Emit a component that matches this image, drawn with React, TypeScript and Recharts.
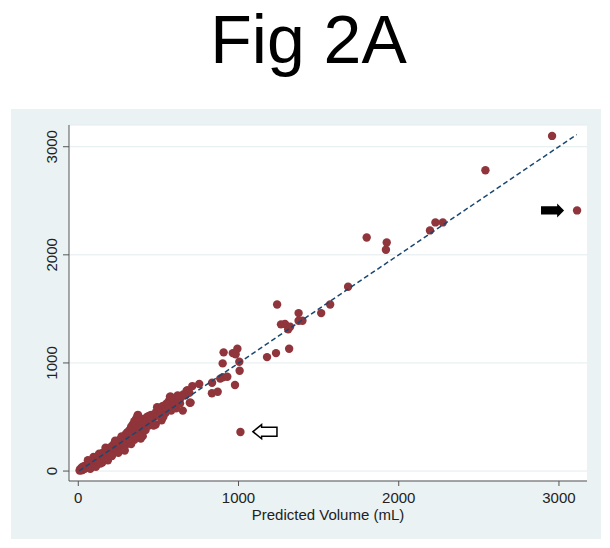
import React from 'react';
import { ScatterChart, Scatter, XAxis, YAxis, CartesianGrid, ReferenceArea, Label } from 'recharts';

const predicted: number[] = [
  8, 12, 15, 20, 22, 25, 28, 30, 35, 38, 40, 45, 48, 50, 55, 58, 60, 65, 68, 70, 75, 78, 80, 85, 88, 90, 95, 98, 100,
  60, 75, 95, 110, 130, 150, 170, 185,
  105, 108, 110, 115, 118, 120, 125, 128, 130, 135, 138, 140, 142, 148, 150, 152, 158, 160, 162, 168, 170, 172, 178, 180, 185, 188, 190, 195, 198, 200,
  205, 210, 212, 218, 220, 225, 230, 235, 238, 242, 245, 250, 255, 258, 262, 268, 270, 272, 278, 280, 285, 288, 292, 295, 298, 300,
  210, 230, 250, 270, 290, 310, 330, 350, 372, 390,
  305, 308, 310, 315, 320, 322, 328, 330, 335, 338, 340, 342, 348, 350, 352, 355, 358, 360, 362, 365, 368, 370, 375, 378, 380, 385, 388, 390, 395, 398, 402, 405,
  410, 416, 420, 428, 432, 440, 447, 455, 462, 468, 478, 483, 485, 492, 495, 500, 506,
  420, 440, 455, 470, 520, 545, 580, 610, 640,
  510, 518, 525, 531, 540, 548, 552, 562, 565, 572, 577, 585, 593, 598, 605, 614, 620, 624, 630, 635, 652, 655, 665, 672, 676, 683, 693, 696, 701, 712, 755,
  835, 834, 870, 886, 902, 930, 901, 907, 964, 982, 993, 1005, 1007, 978, 1012, 1178, 1234,
  1241, 1265, 1290, 1310, 1322, 1316, 1375, 1375, 1399, 1516, 1572, 1684, 1800, 1920, 1925, 2195, 2229, 2275, 2541, 2957, 3113,
];
const measured: number[] = [
  5, 18, 10, 30, 8, 20, 40, 15, 28, 45, 22, 35, 55, 30, 48, 62, 38, 52, 75, 45, 60, 85, 55, 70, 95, 62, 80, 110, 72,
  100, 20, 130, 40, 160, 80, 215, 100,
  95, 120, 85, 105, 135, 90, 115, 140, 100, 125, 70, 150, 110, 135, 165, 118, 145, 175, 128, 155, 185, 140, 165, 200, 150, 175, 210, 165, 190, 215,
  180, 230, 195, 210, 245, 190, 225, 260, 205, 240, 275, 215, 250, 290, 230, 195, 265, 300, 245, 285, 320, 260, 235, 300, 345, 275,
  140, 280, 170, 320, 190, 360, 250, 290, 520, 300,
  315, 360, 290, 330, 380, 300, 350, 410, 320, 380, 430, 345, 400, 460, 370, 330, 420, 480, 395, 440, 505, 360, 465, 410, 495, 440, 380, 470, 420, 455, 323, 480,
  445, 472, 460, 500, 470, 510, 487, 520, 495, 518, 505, 431, 545, 591, 520, 555, 580,
  380, 420, 470, 420, 470, 540, 560, 580, 680,
  518, 575, 600, 503, 610, 585, 625, 611, 645, 688, 688, 650, 641, 660, 611, 657, 700, 642, 682, 626, 559, 709, 700, 706, 743, 749, 725, 632, 633, 786, 805,
  817, 719, 734, 855, 868, 873, 996, 1098, 1091, 1080, 1131, 1011, 928, 796, 361, 1054, 1091,
  1541, 1357, 1360, 1312, 1335, 1131, 1461, 1390, 1390, 1461, 1541, 1705, 2161, 2047, 2115, 2226, 2300, 2300, 2782, 3100, 2411,
];

// Fitted line end points
const fitX: number[] = [5, 3111];
const fitY: number[] = [2, 3113];

// Axis ticks
const xTicks: number[] = [0, 1000, 2000, 3000];
const yTicks: number[] = [0, 1000, 2000, 3000];

// Arrow annotations: [x start, x end, y centre] in data units
const filledArrow: number[] = [2888, 3032, 2411];
const openArrow: number[] = [1090, 1240, 364];
const arrowHalfHeight = 65;

const points = predicted.map((x, i) => ({ x, y: measured[i] }));
const fitLine = fitX.map((x, i) => ({ x, y: fitY[i] }));

const FONT = '"Liberation Sans", Arial, sans-serif';
const MAROON = '#90353B';
const NAVY = '#1A476F';
const AXIS = '#555';

const Dot = (p: any) => <circle cx={p.cx} cy={p.cy} r={4.2} fill={MAROON} />;
const NoDot = () => <g />;

const XTick = (p: any) => (
  <text x={p.x} y={p.y} dy="0.71em" textAnchor="middle" fontFamily={FONT} fontSize={15} fill="#222">
    {p.payload.value}
  </text>
);

const YTick = (p: any) => {
  const cx = p.x - 9;
  return (
    <text
      x={cx}
      y={p.y}
      dy="0.36em"
      transform={`rotate(-90 ${cx} ${p.y})`}
      textAnchor="middle"
      fontFamily={FONT}
      fontSize={15}
      fill="#222"
    >
      {p.payload.value}
    </text>
  );
};

const RightArrow = (p: any) => {
  const { x, y, width: w, height: h } = p;
  const cy = y + h / 2;
  const s = h * 0.29;
  const hx = x + w * 0.7;
  const pts = `${x},${cy - s} ${hx},${cy - s} ${hx},${y} ${x + w},${cy} ${hx},${y + h} ${hx},${cy + s} ${x},${cy + s}`;
  return <polygon points={pts} fill="#000" />;
};

const LeftOpenArrow = (p: any) => {
  const { x, y, width: w, height: h } = p;
  const cy = y + h / 2;
  const s = h * 0.32;
  const hx = x + w * 0.36;
  const pts = `${x},${cy} ${hx},${y} ${hx},${cy - s} ${x + w},${cy - s} ${x + w},${cy + s} ${hx},${cy + s} ${hx},${y + h}`;
  return <polygon points={pts} fill="#fff" stroke="#000" strokeWidth={1.5} />;
};

export default function App() {
  return (
    <div style={{ position: 'relative', width: 610, height: 548, margin: '-8px 0 0 -8px', overflow: 'hidden', background: '#fff' }}>
      <div
        style={{
          position: 'absolute',
          left: 0,
          top: 1,
          width: 617,
          textAlign: 'center',
          fontFamily: FONT,
          fontSize: 68,
          lineHeight: '76px',
          color: '#000',
        }}
      >
        Fig 2A
      </div>
      <div style={{ position: 'absolute', left: 11, top: 109, width: 590, height: 430, background: '#EAF2F3' }} />
      <div style={{ position: 'absolute', left: 0, top: 0 }}>
        <ScatterChart width={610} height={548} margin={{ top: 125, right: 23, bottom: 0, left: 11 }}>
          <CartesianGrid vertical={false} stroke="#E3ECEE" fill="#fff" />
          <XAxis
            type="number"
            dataKey="x"
            domain={[-58, 3175]}
            ticks={xTicks}
            allowDataOverflow
            height={67}
            tickSize={5}
            tickMargin={6}
            stroke={AXIS}
            tick={<XTick />}
          >
            <Label value="Predicted Volume (mL)" position="insideBottom" offset={28} fontFamily={FONT} fontSize={15} fill="#222" />
          </XAxis>
          <YAxis
            type="number"
            dataKey="y"
            domain={[-92, 3201]}
            ticks={yTicks}
            allowDataOverflow
            width={58}
            tickSize={6}
            tickMargin={2}
            stroke={AXIS}
            tick={<YTick />}
          />
          <Scatter data={points} shape={Dot} isAnimationActive={false} />
          <Scatter
            data={fitLine}
            shape={NoDot}
            line={{ stroke: NAVY, strokeWidth: 1.5, strokeDasharray: '5 3' }}
            isAnimationActive={false}
          />
          <ReferenceArea
            x1={filledArrow[0]}
            x2={filledArrow[1]}
            y1={filledArrow[2] - arrowHalfHeight}
            y2={filledArrow[2] + arrowHalfHeight}
            shape={RightArrow}
          />
          <ReferenceArea
            x1={openArrow[0]}
            x2={openArrow[1]}
            y1={openArrow[2] - arrowHalfHeight}
            y2={openArrow[2] + arrowHalfHeight}
            shape={LeftOpenArrow}
          />
        </ScatterChart>
      </div>
    </div>
  );
}
